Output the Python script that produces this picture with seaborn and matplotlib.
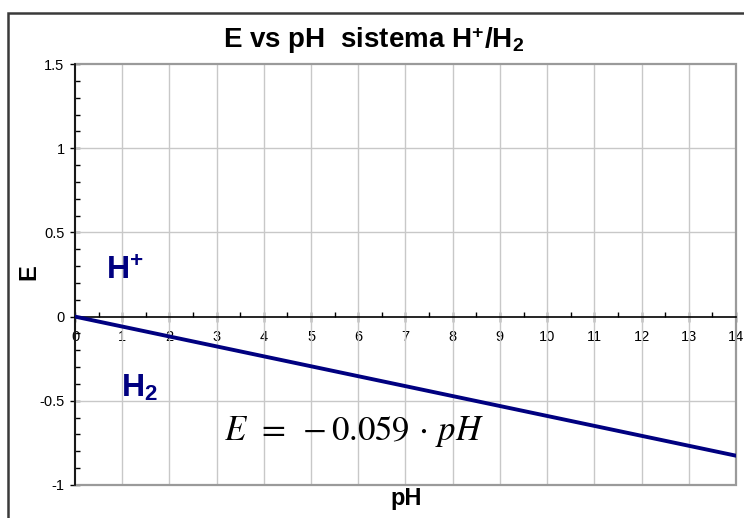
import numpy as np
import pandas as pd
import seaborn as sns
import matplotlib.pyplot as plt
from matplotlib.patches import Rectangle
from matplotlib.ticker import MultipleLocator

# Potential of the H+/H2 couple, E = -0.059 * pH
ph = [0, 1, 2, 3, 4, 5, 6, 7, 8, 9, 10, 11, 12, 13, 14]
e_volts = [0.0, -0.059, -0.118, -0.177, -0.236, -0.295, -0.354, -0.413,
           -0.472, -0.531, -0.59, -0.649, -0.708, -0.767, -0.826]
x_ticks = list(range(0, 15))
y_ticks = [-1, -0.5, 0, 0.5, 1, 1.5]
y_tick_labels = ["-1", "-0.5", "0", "0.5", "1", "1.5"]

df = pd.DataFrame({"pH": ph, "E": e_volts})

sns.set_theme(style="white")
plt.rcParams["font.family"] = ["Liberation Sans", "DejaVu Sans"]
plt.rcParams["text.color"] = "black"
plt.rcParams["xtick.labelcolor"] = "black"
plt.rcParams["ytick.labelcolor"] = "black"
plt.rcParams["mathtext.fontset"] = "custom"
plt.rcParams["mathtext.rm"] = "STIXGeneral"
plt.rcParams["mathtext.it"] = "STIXGeneral:italic"
plt.rcParams["mathtext.bf"] = "Liberation Sans:bold"

fig = plt.figure(figsize=(7.44, 5.18), dpi=100)
ax = fig.add_axes([75 / 744, 1 - 485 / 518, 661 / 744, 421 / 518])

# outer chart frame
fig.patches.append(Rectangle((8 / 744, -0.1), 1.2, 1.1 - 13 / 518,
                             transform=fig.transFigure, fill=False,
                             edgecolor="#3a3a3a", linewidth=1.8, zorder=0))

# grid
for x in x_ticks[1:]:
    ax.axvline(x, color="#c8c8c8", lw=1.0, zorder=1)
for y in [-0.5, 0.5, 1.0]:
    ax.axhline(y, color="#c8c8c8", lw=1.0, zorder=1)

sns.lineplot(data=df, x="pH", y="E", ax=ax, color="#000080", lw=2.8,
             zorder=4, legend=False)

ax.set_xlim(0, 14)
ax.set_ylim(-1, 1.5)

# plot-area border
ax.add_patch(Rectangle((0, 0), 1, 1, transform=ax.transAxes, fill=False,
                       edgecolor="#9a9a9a", lw=1.6, zorder=2, clip_on=False))

for s in ["top", "right"]:
    ax.spines[s].set_visible(False)
ax.spines["left"].set_position(("data", 0))
ax.spines["bottom"].set_position(("data", 0))
for s in ["left", "bottom"]:
    ax.spines[s].set_color("black")
    ax.spines[s].set_linewidth(1.2)
    ax.spines[s].set_zorder(3)

ax.set_xticks(x_ticks)
ax.set_xticklabels([str(v) for v in x_ticks])
ax.xaxis.set_minor_locator(MultipleLocator(0.5))
ax.set_yticks(y_ticks)
ax.set_yticklabels(y_tick_labels)
ax.yaxis.set_minor_locator(MultipleLocator(0.1))

ax.tick_params(axis="x", which="major", direction="inout", length=7,
               width=1.0, color="black", labelsize=10.5, pad=6)
ax.tick_params(axis="x", which="minor", direction="in", length=3.5,
               width=1.0, color="black")
ax.tick_params(axis="y", which="major", direction="inout", length=7,
               width=1.0, color="black", labelsize=10.5, pad=4)
ax.tick_params(axis="y", which="minor", direction="in", length=3.5,
               width=1.0, color="black")
ax.xaxis.set_ticks_position("bottom")
ax.yaxis.set_ticks_position("left")

ax.set_xlabel("")
ax.set_ylabel("")
fig.text(406 / 744, 1 - 498 / 518, "pH", ha="center", va="center",
         fontsize=17, fontweight="bold", color="black")
fig.text(29 / 744, 1 - 272 / 518, "E", ha="center", va="center",
         fontsize=17, fontweight="bold", rotation=90, color="black")

fig.text(223 / 744, 1 - 48 / 518,
         r"E vs pH  sistema H$^{\mathbf{+}}$/H$_{\mathbf{2}}$",
         ha="left", va="baseline", fontsize=20, fontweight="bold",
         color="black")

ax.text(0.65, 0.276, r"$\mathbf{H}^{\mathbf{+}}$", color="#000080",
        fontsize=23, ha="left", va="center", zorder=5)
ax.text(0.97, -0.43, r"$\mathbf{H}_{\mathbf{2}}$", color="#000080",
        fontsize=23, ha="left", va="center", zorder=5)
ax.text(3.16, -0.685, r"$E\;\,=\;-0.059\,\cdot\,pH$", fontsize=25,
        ha="left", va="center", zorder=5, color="black")

fig.savefig("out.png", dpi=100)
